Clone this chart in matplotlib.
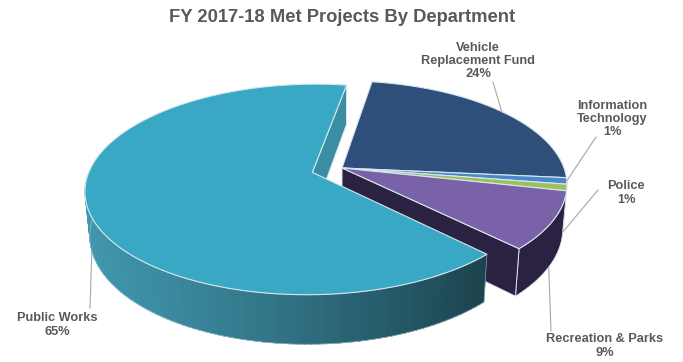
import numpy as np
import matplotlib.pyplot as plt
from matplotlib.patches import Polygon
from matplotlib.colors import to_rgb

plt.rcParams['font.family'] = ['Liberation Sans', 'DejaVu Sans']

# Department shares, clockwise from the first slice
departments = ['Vehicle\nReplacement Fund', 'Information\nTechnology', 'Police',
               'Recreation & Parks', 'Public Works']
shares = [24, 1, 1, 9, 65]
top_colors = ['#2f4f7b', '#4a89c9', '#9dc15a', '#7a62a8', '#39a8c5']
wall_colors = ['#1f3352', '#2f5a88', '#66843a', '#2b2141', '#3a8ea4']
explode = [0, 0, 0, 0, 31]

# label anchor (center of text) and leader end points
label_pos = [(478, 61), (612, 119), (626, 193), (605, 346), (57, 325)]
leader_from = [(493, 82), (596, 137), (598, 190), (551, 331), (90, 308)]
leader_on_wall = [False, False, True, True, True]

# 3d pie geometry (pixels / degrees)
R, H = 222, 50
elev = np.radians(27.1)
dist = 1231.0
cx, cy = 342, 168
start = 9.0

sin_e, cos_e = np.sin(elev), np.cos(elev)


def project(x, z, y):
    depth = z * cos_e - y * sin_e
    up = z * sin_e + y * cos_e
    f = dist / (dist + depth)
    return cx + x * f, cy - up * f


def rim(ox, oz, angles, y):
    a = np.radians(angles)
    return np.array([project(ox + R * np.sin(t), oz + R * np.cos(t), y) for t in a])


fig = plt.figure(figsize=(6.83, 3.62), dpi=100)
ax = fig.add_axes([0, 0, 1, 1])
ax.set_xlim(0, 683)
ax.set_ylim(362, 0)
ax.axis('off')

edge = '#d6e6ef'
n = len(shares)
bounds = start + 360 * np.concatenate([[0], np.cumsum(shares)]) / sum(shares)
slices = []
for i in range(n):
    a0, a1 = bounds[i], bounds[i + 1]
    mid = np.radians((a0 + a1) / 2)
    ox, oz = explode[i] * np.sin(mid), explode[i] * np.cos(mid)
    slices.append((i, a0, a1, ox, oz))

# back-to-front: groups farther from the viewer first
groups = sorted(set(explode), key=lambda e: -min(s[4] for s in slices if explode[s[0]] == e))
for g in groups:
    members = [s for s in slices if explode[s[0]] == g]
    # walls
    for i, a0, a1, ox, oz in members:
        lo, hi = max(a0, 90), min(a1, 270)
        if hi > lo:
            if i == 4:
                # shaded outer wall of Public Works
                steps = np.linspace(lo, hi, 90)
                c_l, c_r = np.array(to_rgb('#4096ad')), np.array(to_rgb('#1c434e'))
                for k in range(len(steps) - 1):
                    seg = np.linspace(steps[k], steps[k + 1] + 0.3, 3)
                    pts = np.vstack([rim(ox, oz, seg, 0), rim(ox, oz, seg[::-1], -H)])
                    t = (pts[:, 0].mean() - 85) / 400
                    col = c_l + (c_r - c_l) * np.clip(t, 0, 1) ** 1.2
                    ax.add_patch(Polygon(pts, closed=True, fc=col, ec=col, lw=0.4))
                seg = np.linspace(lo, hi, 120)
                pts = np.vstack([rim(ox, oz, seg, 0), rim(ox, oz, seg[::-1], -H)])
                ax.add_patch(Polygon(pts, closed=True, fc='none', ec='#cfe2ea', lw=0.5, alpha=0.6))
            else:
                seg = np.linspace(lo, hi, 60)
                pts = np.vstack([rim(ox, oz, seg, 0), rim(ox, oz, seg[::-1], -H)])
                ax.add_patch(Polygon(pts, closed=True, fc=wall_colors[i], ec=edge, lw=0.6))
        # radial faces facing the viewer at a cut between groups
        nxt, prv = (i + 1) % n, (i - 1) % n
        faces = []
        if explode[nxt] != explode[i] and np.sin(np.radians(a1)) > 0:
            faces.append(a1)
        if explode[prv] != explode[i] and np.sin(np.radians(a0)) < 0:
            faces.append(a0)
        for a in faces:
            c0 = project(ox, oz, 0)
            c1 = project(ox, oz, -H)
            p0 = rim(ox, oz, [a], 0)[0]
            p1 = rim(ox, oz, [a], -H)[0]
            ax.add_patch(Polygon([c0, p0, p1, c1], closed=True,
                                 fc=wall_colors[i], ec=edge, lw=0.7))
    # tops
    for i, a0, a1, ox, oz in members:
        arc = rim(ox, oz, np.linspace(a0, a1, max(8, int((a1 - a0) * 1.5))), 0)
        pts = np.vstack([project(ox, oz, 0), arc])
        ax.add_patch(Polygon(pts, closed=True, fc=top_colors[i], ec=edge, lw=0.8))

# labels and leader lines
text_color = '#595959'
for i, a0, a1, ox, oz in slices:
    mid = (a0 + a1) / 2
    tip = rim(ox, oz, [mid], -H if leader_on_wall[i] else 0)[0]
    fx, fy = leader_from[i]
    ax.plot([fx, tip[0]], [fy, tip[1]], color='#a6a6a6', lw=0.8)
    lx, ly = label_pos[i]
    ax.text(lx, ly, f'{departments[i]}\n{shares[i]}%', ha='center', va='center',
            fontsize=9.2, fontweight='bold', color=text_color, linespacing=1.15)

ax.text(342, 17, 'FY 2017-18 Met Projects By Department', ha='center', va='center',
        fontsize=13.2, fontweight='bold', color=text_color)

fig.savefig('out.png', dpi=100)
